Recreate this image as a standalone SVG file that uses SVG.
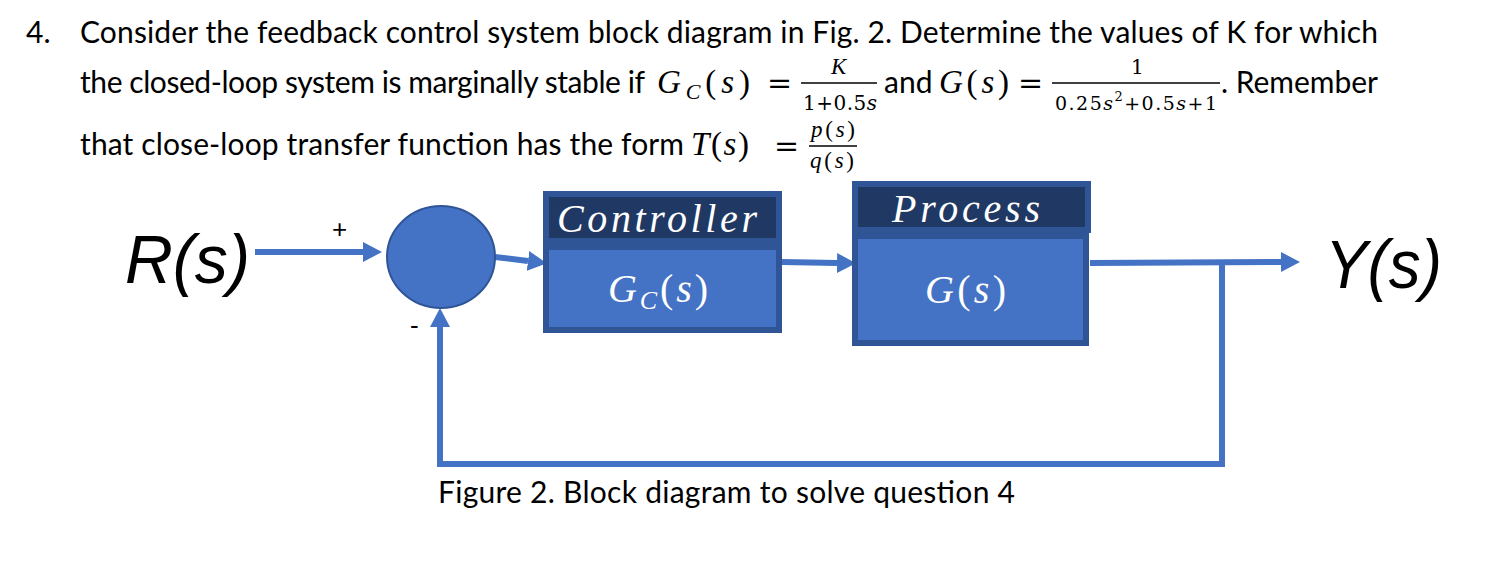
<svg xmlns="http://www.w3.org/2000/svg" width="1507" height="576" viewBox="0 0 1507 576">
<defs>
<style>
.t{font-family:Lato,"Open Sans",sans-serif;font-size:30px;fill:#000}
.m{font-family:"Liberation Serif",serif;font-style:italic;fill:#000}
.d{font-family:"DejaVu Serif",serif;font-style:normal;fill:#000}
.u{font-style:normal}
.i{font-style:italic}
.big{font-family:"Liberation Sans",Arial,sans-serif;font-style:italic;font-size:68px;fill:#000}
.sg{font-family:"Liberation Sans",Arial,sans-serif;font-size:26px;fill:#000}
.ttl{fill:#203864;stroke:#2F5597;stroke-width:6}
.body{fill:#4472C4;stroke:#2F5597;stroke-width:6}
.bt{font-family:"Liberation Serif",serif;font-style:italic;fill:#fff}
.c{fill:none;stroke:#4472C4;stroke-width:6}
.fl{stroke:#000;stroke-width:1.5}
</style>
<marker id="ah" viewBox="0 0 19 20" refX="0" refY="10" markerWidth="19" markerHeight="20" markerUnits="userSpaceOnUse" orient="auto">
<path d="M0,0 L19,10 L0,20 z" fill="#4472C4"/>
</marker>
</defs>
<rect width="1507" height="576" fill="#fff"/>

<g id="question">
<text class="t" x="26" y="43">4.</text>
<text class="t" x="80" y="43" textLength="1298" lengthAdjust="spacing">Consider the feedback control system block diagram in Fig. 2. Determine the values of K for which</text>
<text class="t" x="80" y="93" textLength="565" lengthAdjust="spacing">the closed-loop system is marginally stable if</text>
<text class="m" x="657" y="93" font-size="33" textLength="93" lengthAdjust="spacing">G<tspan font-size="22" dy="6">C</tspan><tspan class="u" dy="-6">(</tspan>s<tspan class="u">)</tspan></text>
<text class="d" x="767" y="93" font-size="30">=</text>
<line class="fl" x1="801" y1="83" x2="877" y2="83"/>
<text class="m" x="831" y="74" font-size="23">K</text>
<text class="d" x="803" y="110" font-size="20" textLength="74" lengthAdjust="spacing">1+0.5<tspan class="i">s</tspan></text>
<text class="t" x="884" y="93">and</text>
<text class="m" x="939" y="93" font-size="33" textLength="70" lengthAdjust="spacing">G<tspan class="u">(</tspan>s<tspan class="u">)</tspan></text>
<text class="d" x="1018" y="93" font-size="30">=</text>
<line class="fl" x1="1052" y1="83" x2="1220" y2="83"/>
<text class="d" x="1131" y="74" font-size="20">1</text>
<text class="d" x="1055" y="110" font-size="19" textLength="162" lengthAdjust="spacing">0.25<tspan class="i">s</tspan><tspan font-size="13" dy="-9">2</tspan><tspan dy="9">+0.5</tspan><tspan class="i">s</tspan>+1</text>
<text class="t" x="1221" y="93" textLength="157" lengthAdjust="spacing">. Remember</text>
<text class="t" x="80" y="155" textLength="604" lengthAdjust="spacing">that close-loop transfer function has the form</text>
<text class="m" x="691" y="155" font-size="33" textLength="58" lengthAdjust="spacing">T<tspan class="u">(</tspan>s<tspan class="u">)</tspan></text>
<text class="d" x="774" y="156" font-size="30">=</text>
<line class="fl" x1="809" y1="146" x2="857" y2="146"/>
<text class="m" x="811" y="137" font-size="23" textLength="44" lengthAdjust="spacing">p<tspan class="u">(</tspan>s<tspan class="u">)</tspan></text>
<text class="m" x="810" y="168" font-size="23" textLength="44" lengthAdjust="spacing">q<tspan class="u">(</tspan>s<tspan class="u">)</tspan></text>
</g>

<g id="connectors">
<line class="c" x1="255" y1="252" x2="363" y2="252" marker-end="url(#ah)"/>
<line class="c" x1="495" y1="257" x2="528" y2="261" marker-end="url(#ah)"/>
<line class="c" x1="782" y1="262" x2="837" y2="263" marker-end="url(#ah)"/>
<line class="c" x1="1090" y1="263" x2="1281" y2="262" marker-end="url(#ah)"/>
<polyline class="c" points="1222,262 1222,464 440,464 440,327" marker-end="url(#ah)"/>
</g>

<g id="R">
<text class="big" x="125" y="283" textLength="125" lengthAdjust="spacingAndGlyphs">R(s)</text>
</g>
<g id="plus"><text class="sg" x="332" y="238">+</text></g>
<g id="minus"><text class="sg" x="410" y="334">-</text></g>

<g id="sum">
<ellipse cx="441" cy="257" rx="54" ry="51" fill="#4472C4" stroke="#2F5597" stroke-width="2"/>
</g>

<g id="controller">
<rect class="ttl" x="546" y="194" width="233" height="47"/>
<rect class="body" x="546" y="247" width="233" height="83"/>
<text class="bt" x="557" y="232" font-size="40" textLength="200" lengthAdjust="spacing">Controller</text>
<text class="bt" x="608" y="302" font-size="40" textLength="100" lengthAdjust="spacing">G<tspan font-size="26" dy="7">C</tspan><tspan font-style="normal" dy="-7">(</tspan>s<tspan font-style="normal">)</tspan></text>
</g>

<g id="process">
<rect class="ttl" x="855" y="184" width="233" height="46"/>
<rect class="body" x="855" y="236" width="231" height="107"/>
<text class="bt" x="892" y="222" font-size="40" textLength="148" lengthAdjust="spacing">Process</text>
<text class="bt" x="925" y="303" font-size="40" textLength="81" lengthAdjust="spacing">G<tspan font-style="normal">(</tspan>s<tspan font-style="normal">)</tspan></text>
</g>

<g id="Y">
<text class="big" x="1325" y="288" textLength="117" lengthAdjust="spacingAndGlyphs">Y(s)</text>
</g>

<g id="caption">
<text class="t" x="438" y="503" font-size="27" textLength="577" lengthAdjust="spacing">Figure 2. Block diagram to solve question 4</text>
</g>
</svg>
